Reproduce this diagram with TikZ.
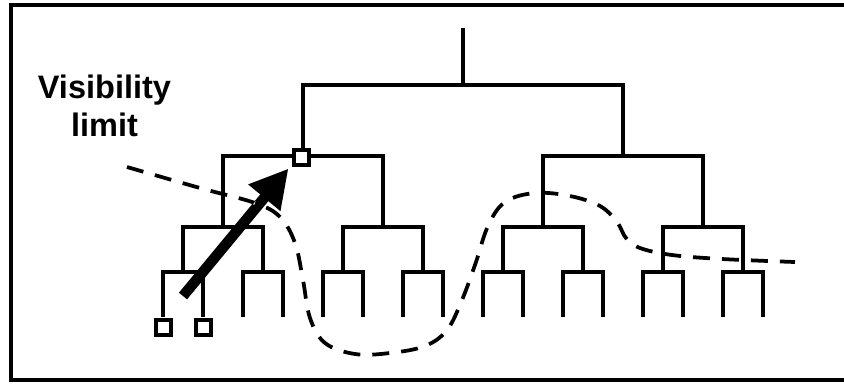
\documentclass[tikz,border=0pt]{standalone}
\usepackage{fontspec}
\setmainfont{Liberation Sans}
\usetikzlibrary{arrows.meta}
\begin{document}
\begin{tikzpicture}[x=0.02cm,y=-0.02cm,
		tree/.style={line width=0.085cm},
		box/.style={draw,line width=0.08cm,fill=white,minimum size=0.3cm,inner sep=0pt},
		limitline/.style={line width=0.075cm,dash pattern=on 0.34cm off 0.24cm},
		bigarrow/.style={line width=0.21cm,-{Triangle[length=0.76cm,width=0.78cm]}}]
			\newcommand{\mylabelfont}{
				\fontsize{18.5}{21.5}\selectfont\bfseries
			}%Picture size
			\useasboundingbox (0,0) rectangle (844,383);
			%Frame, cut off at the right
			\draw [line width=0.09cm] (11,5) rectangle (870,380);
			%Stem of the root
			\draw [tree] (463,28) -- (463,85);
			%Level 1
			\draw [tree] (303,156) |- (623,85) -- (623,156);
			%Level 2
			\foreach \x in {223,543} {
				\draw [tree] (\x,227) |- ({\x+160},156) -- ({\x+160},227);
			}
			%Level 3
			\foreach \x in {183,343,503,663} {
				\draw [tree] (\x,272) |- ({\x+80},227) -- ({\x+80},272);
			}
			%Leaves
			\foreach \x in {163,243,...,723} {
				\draw [tree] (\x,317) |- ({\x+40},272) -- ({\x+40},317);
			}
			%Small squares
			\node [box] (sqTop) at (301,157) {};
			\node [box] (sqLeft) at (163,327) {};
			\node [box] (sqRight) at (203,327) {};
			%Label
			\node [align=center,font=\mylabelfont] (vislabel) at (102,106) {Visibility\\limit};
			%The arrow
			\coordinate (tail) at (183,296);
			\draw [bigarrow] (tail) -- ([shift={(-3,2)}]sqTop.south west);
			%The visibility limit
			\draw [limitline,save path=\limitcurve] plot [smooth,tension=0.6] coordinates {
				(127,167) (200,188) (255,203) (280,217) (295,243) (303,280)
				(310,318) (325,343) (355,354) (390,353) (425,346) (447,330)
				(462,300) (476,262) (488,226) (505,202) (535,193) (570,196)
				(600,206) (617,222) (626,238) (640,248) (672,255) (722,259) (795,262)};
			%White dashes where the limit crosses the arrow
			\begin{scope}
				\clip (179.9,293.5) -- (262.1,193.3) -- (252.1,185.0) -- (286.7,169.5)
					-- (278.3,206.6) -- (268.3,198.3) -- (186.1,298.5) -- cycle;
				\draw [limitline,white,use path=\limitcurve];
			\end{scope}
\end{tikzpicture}
\end{document}
